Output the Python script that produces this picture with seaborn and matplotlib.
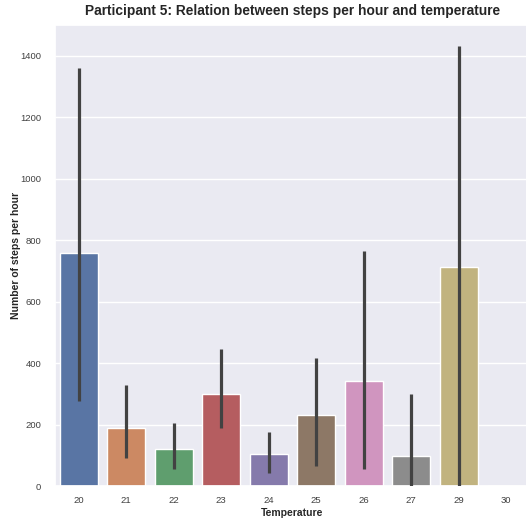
import matplotlib
matplotlib.use("Agg")
import matplotlib.pyplot as plt
import seaborn as sns
import pandas as pd
import numpy as np

temperatures = ["20", "21", "22", "23", "24", "25", "26", "27", "29", "30"]
mean_steps = [757, 190, 119, 299, 104, 230, 341, 97, 714, 0]
ci_low = [277, 92, 55, 190, 43, 65, 55, 0, 0, np.nan]
ci_high = [1360, 330, 206, 445, 176, 415, 766, 299, 1432, np.nan]

sns.set_theme(style="darkgrid")
plt.rcParams["font.family"] = ["Liberation Sans", "DejaVu Sans"]

df = pd.DataFrame({"Temperature": temperatures, "Steps": mean_steps})

fig = plt.figure(figsize=(5.26, 5.2), dpi=100)
ax = fig.add_axes([55 / 526, 34 / 520, 475 / 526, 461 / 520])

sns.barplot(data=df, x="Temperature", y="Steps", hue="Temperature",
            palette="deep", legend=False, errorbar=None, ax=ax, width=0.8)

xs = np.arange(len(temperatures))
lo = np.array(ci_low, dtype=float)
hi = np.array(ci_high, dtype=float)
mask = ~np.isnan(lo)
ax.vlines(xs[mask], lo[mask], hi[mask], color=".26", linewidth=2.3, zorder=3)

ax.set_ylim(0, 1500)
ax.set_yticks([0, 200, 400, 600, 800, 1000, 1200, 1400])
ax.set_xlim(-0.5, 9.5)
ax.tick_params(axis="y", labelsize=6.8, colors=".25", pad=4)
ax.tick_params(axis="x", labelsize=6.8, colors=".25", pad=1)
ax.set_xlabel("Temperature", fontsize=7.5, fontweight="bold", labelpad=2)
ax.set_ylabel("Number of steps per hour", fontsize=7.5, fontweight="bold", labelpad=-1)
ax.set_title("Participant 5: Relation between steps per hour and temperature",
             fontsize=9.9, fontweight="bold", color=".15", pad=7)

fig.savefig("out.png", dpi=100)
